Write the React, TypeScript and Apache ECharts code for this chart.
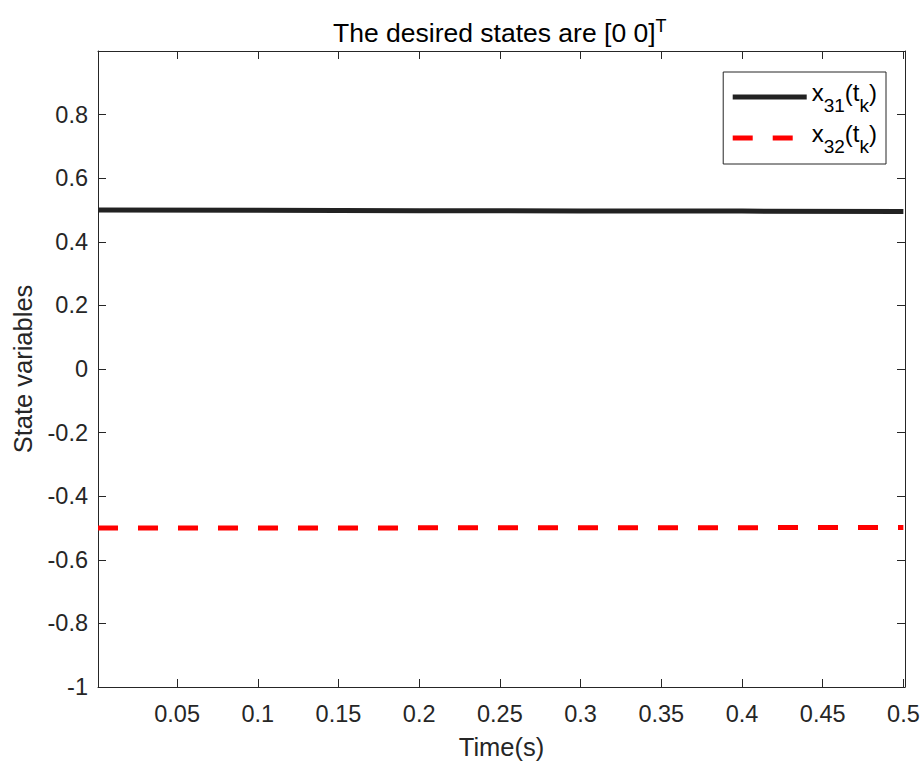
import React, { useEffect, useRef } from "react";
import * as echarts from "echarts";

// Time samples (s) and state readings
const timeValues = [0.001, 0.1, 0.2, 0.3, 0.4, 0.5];
const x31Values = [0.5, 0.499, 0.498, 0.497, 0.4965, 0.4955];
const x32Values = [-0.5, -0.4998, -0.4996, -0.4993, -0.4989, -0.4983];

const xTickValues = [0.05, 0.1, 0.15, 0.2, 0.25, 0.3, 0.35, 0.4, 0.45, 0.5];
const seriesNames = ["{m|x}{s|31}{m|(t}{s|k}{m|)}", "{m|x}{s|32}{m|(t}{s|k}{m|)}"];

const AX = "#262626";
const FONT = "'Liberation Sans', Arial, Helvetica, sans-serif";

export default function App() {
  const ref = useRef<HTMLDivElement>(null);
  useEffect(() => {
    document.body.style.margin = "0";
    document.body.style.overflow = "hidden";
    document.documentElement.style.overflow = "hidden";
    const chart = echarts.init(ref.current!, null, { renderer: "svg" });
    const tickLabelStyle = { fontSize: 23.5, color: AX, fontFamily: FONT };
    const xAxisBase = {
      type: "value",
      min: 0.001,
      max: 0.501,
      splitLine: { show: false },
      axisLine: { show: true, onZero: false, lineStyle: { color: AX, width: 1 } },
    };
    const yAxisBase = {
      type: "value",
      min: -1,
      max: 1,
      interval: 0.2,
      splitLine: { show: false },
      axisLine: { show: true, onZero: false, lineStyle: { color: AX, width: 1 } },
      axisTick: { show: true, inside: true, length: 8, lineStyle: { color: AX } },
    };
    chart.setOption({
      animation: false,
      backgroundColor: "#fff",
      textStyle: { fontFamily: FONT },
      title: {
        text: "{m|The desired states are [0 0]}{sup|T}",
        left: 333,
        top: 17,
        padding: 0,
        textStyle: {
          fontSize: 26.5,
          fontWeight: "normal",
          color: "#000",
          fontFamily: FONT,
          rich: {
            m: { fontSize: 26.5, lineHeight: 32, verticalAlign: "middle", color: "#000", fontFamily: FONT },
            sup: { fontSize: 18, lineHeight: 18, verticalAlign: "top", color: "#000", fontFamily: FONT },
          },
        },
      },
      grid: { left: 98, right: 19, top: 51, bottom: 77, containLabel: false },
      legend: {
        orient: "vertical",
        right: 38,
        top: 72,
        padding: [8, 9, 8, 7],
        itemWidth: 74,
        itemHeight: 28,
        itemGap: 6,
        borderColor: AX,
        borderWidth: 1,
        backgroundColor: "#fff",
        itemStyle: { opacity: 0 },
        lineStyle: { width: 5 },
        data: seriesNames,
        textStyle: {
          fontSize: 24,
          color: "#000",
          fontFamily: FONT,
          rich: {
            m: { fontSize: 24, verticalAlign: "middle", padding: [0, 0, 10, 0], color: "#000", fontFamily: FONT },
            s: { fontSize: 19, verticalAlign: "middle", padding: [17, 0, 0, 0], color: "#000", fontFamily: FONT },
          },
        },
      },
      xAxis: [
        {
          ...xAxisBase,
          position: "bottom",
          name: "Time(s)",
          nameLocation: "middle",
          nameGap: 47,
          nameTextStyle: { fontSize: 25.5, color: AX, fontFamily: FONT },
          axisTick: { show: true, inside: true, length: 8, lineStyle: { color: AX }, customValues: xTickValues },
          axisLabel: { ...tickLabelStyle, margin: 15, customValues: xTickValues, formatter: (v: number) => String(+v.toFixed(3)) },
        },
        {
          ...xAxisBase,
          position: "top",
          axisTick: { show: true, inside: true, length: 8, lineStyle: { color: AX }, customValues: xTickValues },
          axisLabel: { show: false },
        },
      ],
      yAxis: [
        {
          ...yAxisBase,
          position: "left",
          name: "State variables",
          nameLocation: "middle",
          nameGap: 62,
          nameTextStyle: { fontSize: 25.5, color: AX, fontFamily: FONT },
          axisLabel: {
            ...tickLabelStyle,
            margin: 10,
            showMaxLabel: false,
            formatter: (v: number) => String(+v.toFixed(2)),
          },
        },
        {
          ...yAxisBase,
          position: "right",
          axisLabel: { show: false },
        },
      ],
      series: [
        {
          name: seriesNames[0],
          type: "line",
          symbol: "none",
          xAxisIndex: 0,
          yAxisIndex: 0,
          lineStyle: { color: "#222", width: 5 },
          itemStyle: { color: "#222" },
          data: timeValues.map((t, i) => [t, x31Values[i]]),
        },
        {
          name: seriesNames[1],
          type: "line",
          symbol: "none",
          xAxisIndex: 0,
          yAxisIndex: 0,
          lineStyle: { color: "#ff0000", width: 5, type: [20, 20] },
          itemStyle: { color: "#ff0000" },
          data: timeValues.map((t, i) => [t, x32Values[i]]),
        },
      ],
    });
    return () => chart.dispose();
  }, []);
  return (
    <div
      ref={ref}
      style={{ position: "fixed", left: 0, top: 0, width: 924, height: 765, overflow: "hidden" }}
    />
  );
}
